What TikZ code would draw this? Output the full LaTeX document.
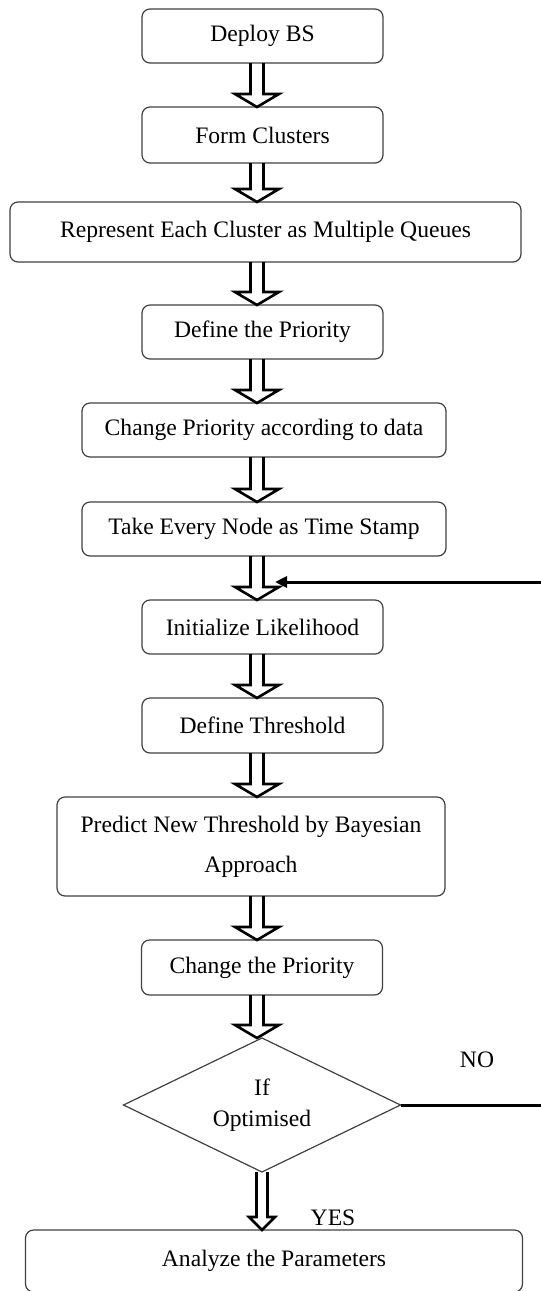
\documentclass[tikz,border=0pt]{standalone}
\usepackage{fontspec}
\setmainfont{Liberation Serif}
\usetikzlibrary{arrows.meta,calc,positioning,shapes.geometric}

\begin{document}
\begin{tikzpicture}[
  x=1pt, y=-1pt,
  node distance=44pt,
  every node/.style={font=\fontsize{23.6}{28}\selectfont},
  stepbox/.style={draw=black!75, line width=1.2pt, rounded corners=8pt, align=center, inner sep=0pt, outer sep=0pt, minimum width=241pt, minimum height=54pt},
  decision/.style={draw=black!75, line width=1.2pt, diamond, aspect=2, align=center, inner sep=0pt, outer sep=0pt, minimum width=277pt, minimum height=134pt},
  hollow/.style n args={2}{draw, line width=2.6pt, line join=miter, to path={let \p1=(\tikztostart), \p2=(\tikztotarget) in (\x1-#2,\y1) -- (\x1-#2,\y2+13pt) -- (\x1-#1,\y2+13pt) -- (\x1,\y2) -- (\x1+#1,\y2+13pt) -- (\x1+#2,\y2+13pt) -- (\x1+#2,\y1)}},
  blockarrow/.style={hollow={22pt}{6.5pt}},
  loopline/.style={line width=3pt}
]
\useasboundingbox (0,0) rectangle (541,1291);
\coordinate (spine) at (257,0);
\coordinate (edgeR) at (541,0);

\node[stepbox] (deploy) at (262.5,36) {Deploy BS};
\node[stepbox, below=of deploy, minimum height=56pt] (form) {Form Clusters};
\node[stepbox, below=39pt of form, minimum width=511pt, minimum height=60pt, xshift=3pt] (queues) {Represent Each Cluster as Multiple Queues};
\node[stepbox, below=43pt of queues, xshift=-3pt] (define) {Define the Priority};
\node[stepbox, below=of define, minimum width=364pt, xshift=1.5pt] (update) {Change Priority according to data};
\node[stepbox, below=45pt of update, minimum width=364pt] (stamp) {Take Every Node as Time Stamp};
\node[stepbox, below=of stamp, xshift=-1.5pt] (init) {Initialize Likelihood};
\node[stepbox, below=of init, minimum height=55pt] (thresh) {Define Threshold};
\node[stepbox, below=of thresh, minimum width=388pt, minimum height=99pt, xshift=-11.5pt, font=\fontsize{23.6}{40}\selectfont] (predict) {Predict New Threshold by Bayesian\\Approach};
\node[stepbox, below=of predict, minimum height=55pt, xshift=11pt] (change) {Change the Priority};
\node[decision, below=43pt of change, font=\fontsize{23.6}{31}\selectfont] (optim) {If\\Optimised};
\node[stepbox, below=58pt of optim, minimum width=497pt, minimum height=62pt, xshift=12pt] (analyze) {Analyze the Parameters};

\node (no) at (477,1060) {NO};
\node (yes) at (333,1218) {YES};

% main flow
\draw[blockarrow] (deploy.south -| spine) to (form.north);
\draw[blockarrow] (form.south -| spine) to (queues.north);
\draw[blockarrow] (queues.south -| spine) to (define.north);
\draw[blockarrow] (define.south -| spine) to (update.north);
\draw[blockarrow] (update.south -| spine) to (stamp.north);
\draw[blockarrow] (stamp.south -| spine) to (init.north);
\draw[blockarrow] (init.south -| spine) to (thresh.north);
\draw[blockarrow] (thresh.south -| spine) to (predict.north);
\draw[blockarrow] (predict.south -| spine) to (change.north);
\draw[blockarrow] (change.south -| spine) to (optim.north);
\draw[hollow={13pt}{5.5pt}] (optim.south) to (analyze.north);

% loop back when not optimised
\coordinate (edgeT) at (541,582);
\coordinate (back) at (275,582);
\draw[loopline] (optim.east) -- (optim.east -| edgeR);
\draw[loopline, -{Triangle[length=12pt,width=11pt]}] (edgeT) -- (back);
\end{tikzpicture}
\end{document}
